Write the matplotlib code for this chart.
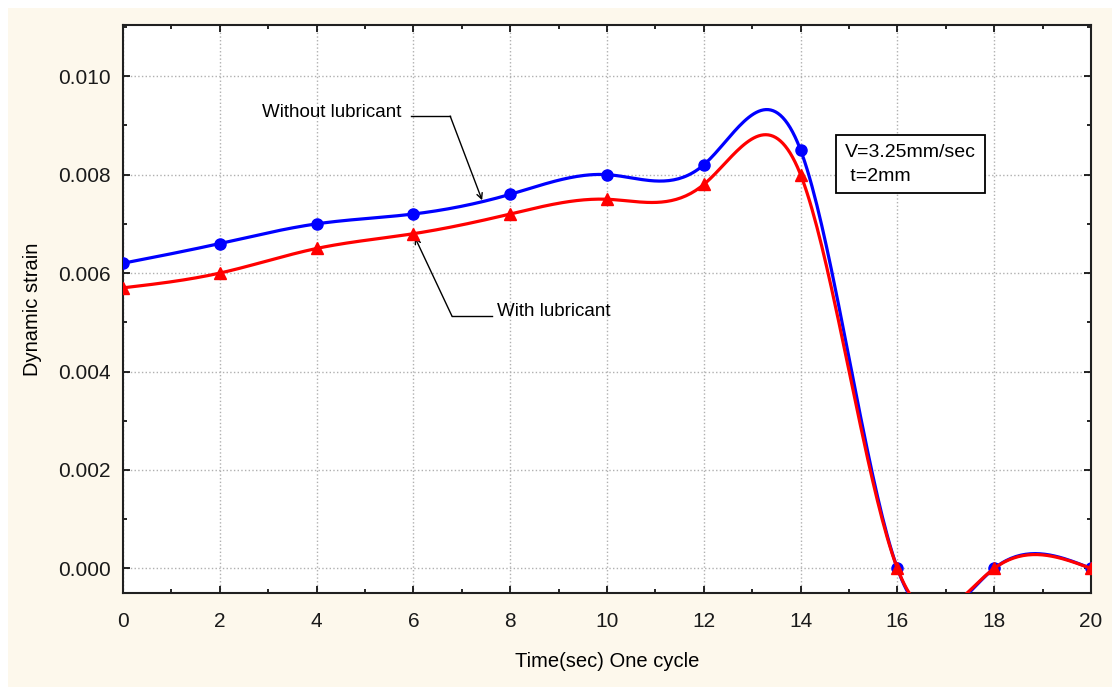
import numpy as np
import matplotlib
matplotlib.use('Agg')
import matplotlib.pyplot as plt
import matplotlib.ticker as ticker
from matplotlib.patches import Rectangle

# data
time_sec = [0, 2, 4, 6, 8, 10, 12, 14, 16, 18, 20]
without_lub = [0.0062, 0.0066, 0.0070, 0.0072, 0.0076, 0.0080, 0.0082, 0.0085, 0.0000, 0.0000, 0.0000]
with_lub = [0.0057, 0.0060, 0.0065, 0.0068, 0.0072, 0.0075, 0.0078, 0.0080, 0.0000, 0.0000, 0.0000]

x_ticks = [0, 2, 4, 6, 8, 10, 12, 14, 16, 18, 20]
y_ticks = [0.000, 0.002, 0.004, 0.006, 0.008, 0.010]


def natural_spline(x, y, n=400):
    # natural cubic spline through the data points (smooth line like the original)
    x = np.asarray(x, float)
    y = np.asarray(y, float)
    k = len(x)
    h = np.diff(x)
    A = np.zeros((k, k))
    b = np.zeros(k)
    A[0, 0] = 1
    A[-1, -1] = 1
    for i in range(1, k - 1):
        A[i, i - 1] = h[i - 1]
        A[i, i] = 2 * (h[i - 1] + h[i])
        A[i, i + 1] = h[i]
        b[i] = 3 * ((y[i + 1] - y[i]) / h[i] - (y[i] - y[i - 1]) / h[i - 1])
    c = np.linalg.solve(A, b)
    xs = np.linspace(x[0], x[-1], n)
    idx = np.clip(np.searchsorted(x, xs) - 1, 0, k - 2)
    dx = xs - x[idx]
    bb = (y[idx + 1] - y[idx]) / h[idx] - h[idx] * (2 * c[idx] + c[idx + 1]) / 3
    dd = (c[idx + 1] - c[idx]) / (3 * h[idx])
    ys = y[idx] + bb * dx + c[idx] * dx ** 2 + dd * dx ** 3
    return xs, ys


plt.rcParams['font.family'] = ['Liberation Sans', 'DejaVu Sans']

fig = plt.figure(figsize=(11.12, 6.87), dpi=100)
fig.patch.set_facecolor('white')
fig.patches.append(Rectangle((8 / 1112, 0), 1 - 8 / 1112, 1 - 8 / 687,
                             transform=fig.transFigure, facecolor='#fdf8ec',
                             edgecolor='none', zorder=-10))

ax = fig.add_axes([0.1106, 0.1368, 0.9811 - 0.1106, 0.9636 - 0.1368])
ax.set_facecolor('white')

xs, ys = natural_spline(time_sec, without_lub)
ax.plot(xs, ys, color='#0000ff', linewidth=2.3, zorder=3)
ax.plot(time_sec, without_lub, 'o', color='#0000ff', markersize=8, zorder=4)

xs, ys = natural_spline(time_sec, with_lub)
ax.plot(xs, ys, color='#ff0000', linewidth=2.3, zorder=5)
ax.plot(time_sec, with_lub, '^', color='#ff0000', markersize=8.5, zorder=6)

ax.set_xlim(0, 20)
ax.set_ylim(-0.0005, 0.01104)
ax.set_xticks(x_ticks)
ax.set_yticks(y_ticks)
ax.yaxis.set_major_formatter(ticker.FormatStrFormatter('%.3f'))
ax.xaxis.set_minor_locator(ticker.MultipleLocator(1))
ax.yaxis.set_minor_locator(ticker.MultipleLocator(0.001))
ax.tick_params(which='both', direction='in', top=True, right=True, colors='black')
ax.tick_params(which='major', length=5, width=1.2, labelsize=15)
ax.tick_params(axis='y', which='major', pad=9)
ax.tick_params(axis='x', which='major', pad=14)
ax.tick_params(which='minor', length=3, width=1.2)
for lbl in ax.get_xticklabels() + ax.get_yticklabels():
    lbl.set_color('#1a1a1a')
for sp in ax.spines.values():
    sp.set_linewidth(1.5)
    sp.set_color('#202020')
ax.grid(True, which='major', linestyle=':', color='#b0b0b0', linewidth=1.0)

ax.set_xlabel('Time(sec) One cycle', fontsize=14.5, labelpad=15)
ax.set_ylabel('Dynamic strain', fontsize=14.5, labelpad=11)

# annotations
ax.text(2.87, 0.00927, 'Without lubricant', fontsize=13.5, va='center', ha='left')
ax.plot([5.95, 6.76], [0.00919, 0.00919], color='black', linewidth=1)
ax.annotate('', xy=(7.42, 0.00748), xytext=(6.76, 0.00919),
            arrowprops=dict(arrowstyle='->', color='black', lw=1, shrinkA=0, shrinkB=0))

ax.text(7.73, 0.00521, 'With lubricant', fontsize=13.5, va='center', ha='left')
ax.plot([6.80, 7.62], [0.00512, 0.00512], color='black', linewidth=1)
ax.annotate('', xy=(6.03, 0.00673), xytext=(6.80, 0.00512),
            arrowprops=dict(arrowstyle='->', color='black', lw=1, shrinkA=0, shrinkB=0))

ax.text(14.92, 0.00862, 'V=3.25mm/sec\n t=2mm', fontsize=14, va='top', ha='left',
        linespacing=1.5,
        bbox=dict(boxstyle='square,pad=0.45', facecolor='white', edgecolor='black', linewidth=1.3))

fig.savefig('out.png', dpi=100, facecolor=fig.get_facecolor())
